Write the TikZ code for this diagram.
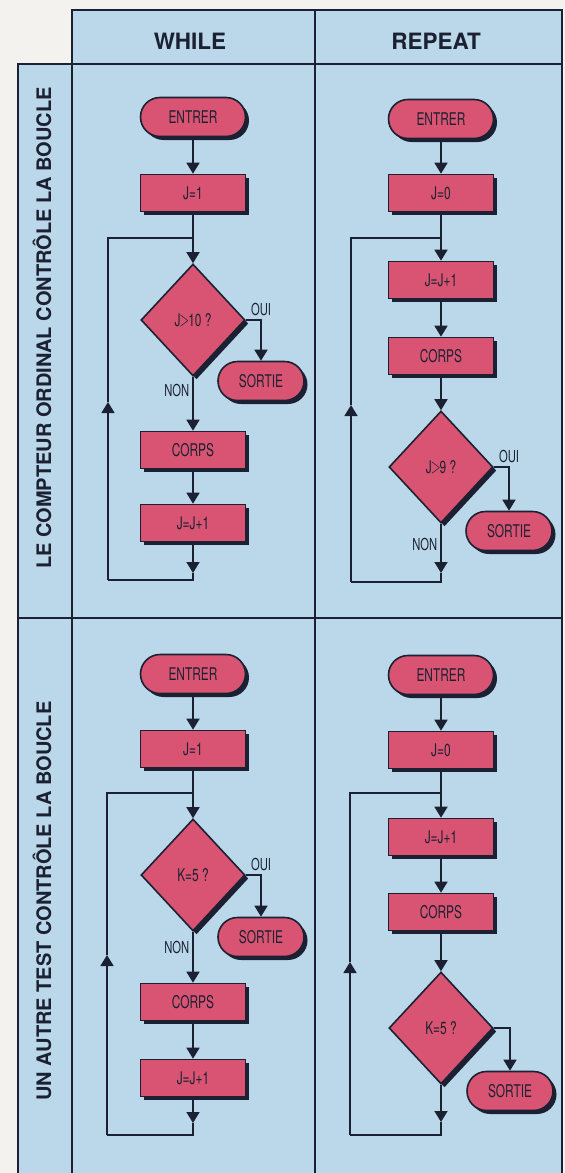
\documentclass[tikz,border=0pt]{standalone}
\usepackage{fontspec}
\setmainfont{TeX Gyre Heros}
\newfontfamily\boxfont[FakeStretch=0.68]{TeX Gyre Heros}
\usetikzlibrary{shapes.geometric, shapes.misc, shadows, arrows.meta}

\definecolor{paper}{RGB}{244,242,238}
\definecolor{sky}{RGB}{186,216,234}
\definecolor{rose}{RGB}{216,84,114}
\definecolor{ink}{RGB}{27,33,50}

\newcommand{\bigger}{\kern-1pt\scalebox{0.75}[1.25]{$>$}\kern-1pt}

\begin{document}
\begin{tikzpicture}[x=1pt, y=-1pt,
    wire/.style={draw=ink, line width=1.6pt},
    flow/.style={wire, -{Triangle[width=13pt, length=11pt]}},
    boxshadow/.style={drop shadow={shadow xshift=3.5pt, shadow yshift=-3.5pt, fill=ink, opacity=1}},
    shapebase/.style={draw=ink, line width=1.6pt, fill=rose, boxshadow, inner sep=0pt,
        text=ink, font=\boxfont\fontsize{17.5}{19}\selectfont},
    term/.style={shapebase, rounded rectangle, minimum width=105pt, minimum height=39pt},
    stepbox/.style={shapebase, rectangle, minimum width=105pt, minimum height=37pt},
    decision/.style={shapebase, diamond, minimum width=104pt, minimum height=112pt},
    lbl/.style={text=ink, inner sep=3pt, font=\boxfont\fontsize{16.5}{18}\selectfont},
    colhead/.style={text=ink, font=\bfseries\fontsize{20}{24}\selectfont}]

    % 1. Page, table frame and headings
    \clip (0,0) rectangle (565,1173);
    \fill[paper] (0,0) rectangle (565,1173);
    \fill[sky] (72,10) rectangle (562,1180);
    \fill[sky] (18,64) rectangle (72,1180);
    \draw[wire] (72,1180) -- (72,10) -- (562,10) -- (562,1180);
    \draw[wire] (18,1180) -- (18,64) -- (562,64);
    \draw[wire] (315,10) -- (315,1180);
    \draw[wire] (18,618) -- (562,618);

    \node[colhead, font=\bfseries\fontsize{22.5}{26}\selectfont] (while) at (190,41) {WHILE};
    \node[colhead, font=\bfseries\fontsize{22.5}{26}\selectfont] (repeat) at (436,41) {REPEAT};
    \node[colhead, rotate=90] (rowone) at (42,328) {LE COMPTEUR ORDINAL CONTRÔLE LA BOUCLE};
    \node[colhead, rotate=90] (rowtwo) at (42,901) {UN AUTRE TEST CONTRÔLE LA BOUCLE};

    % 2. WHILE, counter
    \node[term] (eA) at (193,117) {ENTRER};
    \node[stepbox] (iA) at (193,193) {J=1};
    \coordinate (jA) at (193,238);
    \node[decision] (tA) at (193,320) {J\bigger10 ?};
    \node[term, minimum width=86pt] (sA) at (261,381) {SORTIE};
    \node[stepbox] (cA) at (193,450) {CORPS};
    \node[stepbox] (nA) at (193,523) {J=J+1};
    \coordinate (dA) at (193,573);
    \coordinate (bA) at (193,580);
    \coordinate (kA) at (108,580);
    \coordinate (uA) at (108,402);
    \coordinate (mA) at (108,238);

    \draw[flow] (eA) -- (iA);
    \draw[flow] (iA) -- (tA);
    \draw[flow] (tA) -| node[lbl, above, pos=0.5] {OUI} (sA);
    \draw[flow] (tA) -- node[lbl, left, pos=0.25] {NON} (cA);
    \draw[flow] (cA) -- (nA);
    \draw[flow] (nA) -- (dA);
    \draw[wire] (dA) -- (bA) -- (kA);
    \draw[flow] (kA) -- (uA);
    \draw[wire] (uA) -- (mA) -- (jA);

    % 3. REPEAT, counter
    \node[term] (eB) at (441,119) {ENTRER};
    \node[stepbox] (iB) at (441,193) {J=0};
    \coordinate (jB) at (441,238);
    \node[stepbox] (pB) at (441,280) {J=J+1};
    \node[stepbox] (cB) at (441,356) {CORPS};
    \node[decision] (tB) at (441,467) {J\bigger9 ?};
    \node[term, minimum width=86pt] (sB) at (509,531) {SORTIE};
    \coordinate (dB) at (441,573);
    \coordinate (bB) at (441,582);
    \coordinate (kB) at (351,582);
    \coordinate (uB) at (351,405);
    \coordinate (mB) at (351,238);

    \draw[flow] (eB) -- (iB);
    \draw[flow] (iB) -- (pB);
    \draw[flow] (pB) -- (cB);
    \draw[flow] (cB) -- (tB);
    \draw[flow] (tB) -| node[lbl, above, pos=0.5] {OUI} (sB);
    \draw[flow] (tB) -- node[lbl, left, pos=0.42] {NON} (dB);
    \draw[wire] (dB) -- (bB) -- (kB);
    \draw[flow] (kB) -- (uB);
    \draw[wire] (uB) -- (mB) -- (jB);

    % 4. WHILE, other test
    \node[term] (eC) at (193,674) {ENTRER};
    \node[stepbox] (iC) at (193,749) {J=1};
    \coordinate (jC) at (193,793);
    \node[decision] (tC) at (193,875) {K=5 ?};
    \node[term, minimum width=86pt] (sC) at (261,937) {SORTIE};
    \node[stepbox] (cC) at (193,1002) {CORPS};
    \node[stepbox] (nC) at (193,1078) {J=J+1};
    \coordinate (dC) at (193,1123);
    \coordinate (bC) at (193,1135);
    \coordinate (kC) at (107,1135);
    \coordinate (uC) at (107,955);
    \coordinate (mC) at (107,793);

    \draw[flow] (eC) -- (iC);
    \draw[flow] (iC) -- (tC);
    \draw[flow] (tC) -| node[lbl, above, pos=0.5] {OUI} (sC);
    \draw[flow] (tC) -- node[lbl, left, pos=0.3] {NON} (cC);
    \draw[flow] (cC) -- (nC);
    \draw[flow] (nC) -- (dC);
    \draw[wire] (dC) -- (bC) -- (kC);
    \draw[flow] (kC) -- (uC);
    \draw[wire] (uC) -- (mC) -- (jC);

    % 5. REPEAT, other test
    \node[term] (eD) at (441,675) {ENTRER};
    \node[stepbox] (iD) at (441,750) {J=0};
    \coordinate (jD) at (441,793);
    \node[stepbox] (pD) at (441,837) {J=J+1};
    \node[stepbox] (cD) at (441,912) {CORPS};
    \node[decision] (tD) at (441,1028) {K=5 ?};
    \node[term, minimum width=86pt] (sD) at (510,1091) {SORTIE};
    \coordinate (dD) at (441,1122);
    \coordinate (bD) at (441,1135);
    \coordinate (kD) at (350,1135);
    \coordinate (uD) at (350,962);
    \coordinate (mD) at (350,793);

    \draw[flow] (eD) -- (iD);
    \draw[flow] (iD) -- (pD);
    \draw[flow] (pD) -- (cD);
    \draw[flow] (cD) -- (tD);
    \draw[flow] (tD) -| (sD);
    \draw[flow] (tD) -- (dD);
    \draw[wire] (dD) -- (bD) -- (kD);
    \draw[flow] (kD) -- (uD);
    \draw[wire] (uD) -- (mD) -- (jD);

\end{tikzpicture}
\end{document}
